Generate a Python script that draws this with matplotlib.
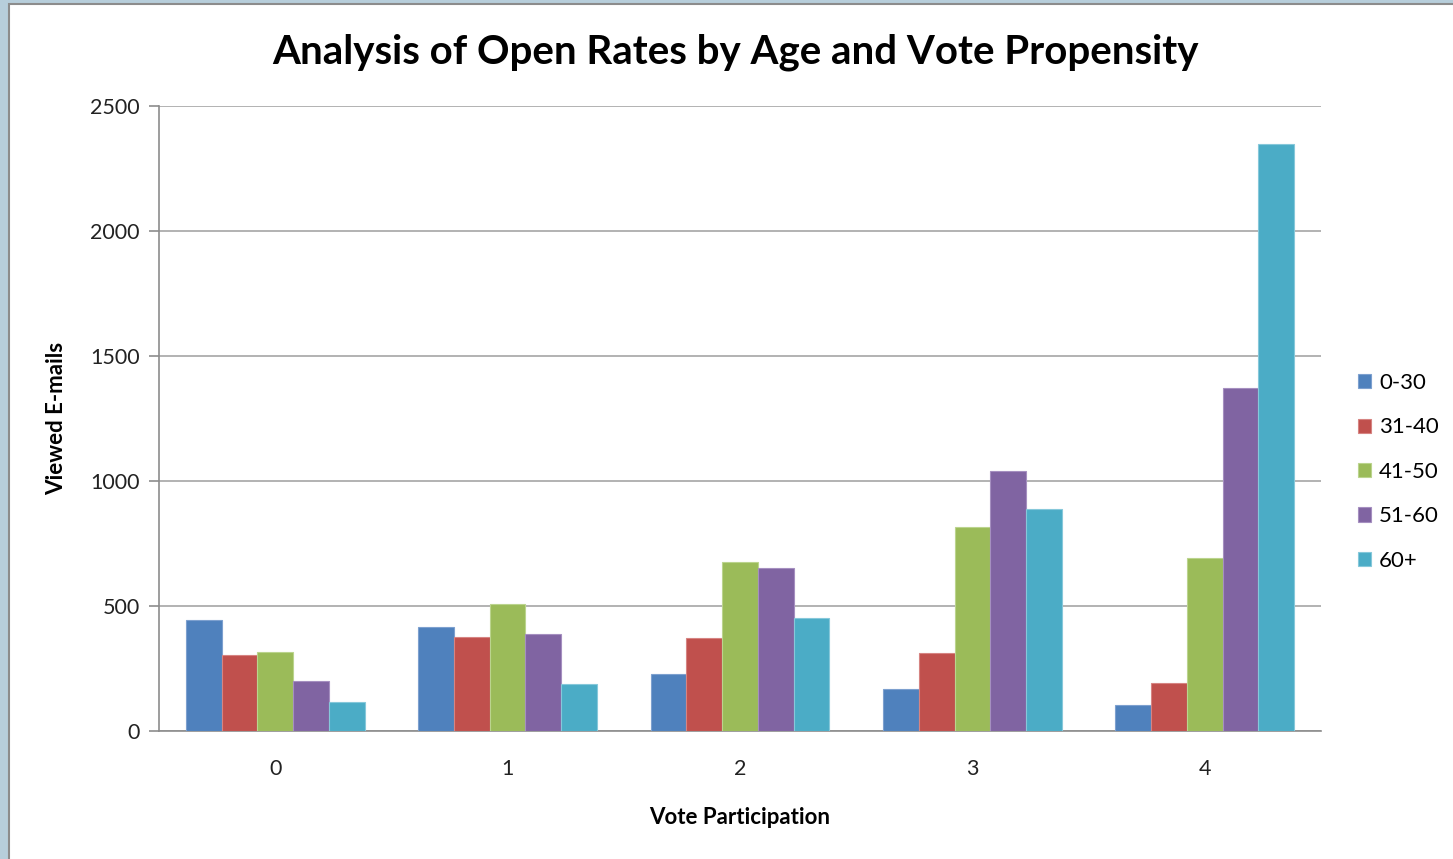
import matplotlib
matplotlib.use("Agg")
import matplotlib.pyplot as plt
from matplotlib.patches import Rectangle
import numpy as np

plt.rcParams['font.family'] = ['Lato', 'DejaVu Sans']

categories = ["0", "1", "2", "3", "4"]
age_groups = ["0-30", "31-40", "41-50", "51-60", "60+"]
viewed = {
    "0-30":  [443, 417, 227, 167, 105],
    "31-40": [305, 376, 371, 311, 194],
    "41-50": [316, 507, 675, 815, 691],
    "51-60": [199, 387, 652, 1041, 1373],
    "60+":   [115, 189, 451, 887, 2349],
}
colors = ["#4F81BD", "#C0504D", "#9BBB59", "#8064A2", "#4BACC6"]
edge_colors = ["#7DA0CF", "#D68482", "#BBD48E", "#A58FC0", "#86C8DA"]
y_ticks = [0, 500, 1000, 1500, 2000, 2500]

W, H = 1453, 859
fig = plt.figure(figsize=(W / 100, H / 100), dpi=100)
fig.patch.set_facecolor("#B7CEDB")

# white chart area with grey frame, kept behind the axes
fig.patches.append(Rectangle((9 / W, -0.01), 1.0, 1.01 - 4 / H, transform=fig.transFigure,
                             facecolor="white", edgecolor="#8C8C8C", linewidth=1.5,
                             zorder=-5))

ax = fig.add_axes([159 / W, 1 - 731 / H, (1321 - 159) / W, (731 - 106) / H])
ax.set_facecolor("none")
ax.set_zorder(2)

n = len(age_groups)
x = np.arange(len(categories))
bar_w = 1.0 / (n + 1.5)
for i, (grp, c, ec) in enumerate(zip(age_groups, colors, edge_colors)):
    offs = (i - (n - 1) / 2) * bar_w
    ax.bar(x + offs, viewed[grp], width=bar_w, color=c, edgecolor=ec,
           linewidth=0.8, label=grp, zorder=3)

ax.set_xlim(-0.5, len(categories) - 0.5)
ax.set_ylim(0, 2500)
ax.set_yticks(y_ticks)
ax.set_yticklabels([str(v) for v in y_ticks], fontsize=15.5, color="#222222")
ax.set_xticks(x)
ax.set_xticklabels(categories, fontsize=15.5, color="#222222")
ax.tick_params(axis="y", length=7, width=1.2, color="#8C8C8C", pad=7)
ax.tick_params(axis="x", length=0, pad=20)
ax.grid(axis="y", color="#A6A6A6", linewidth=1.2, zorder=1)
for s in ["top", "right"]:
    ax.spines[s].set_visible(False)
for s in ["left", "bottom"]:
    ax.spines[s].set_color("#8C8C8C")
    ax.spines[s].set_linewidth(1.2)

fig.text(735 / W, 1 - 52 / H, "Analysis of Open Rates by Age and Vote Propensity",
         fontsize=29, fontweight="bold", ha="center", va="center", color="black")
fig.text(57 / W, 1 - 418 / H, "Viewed E-mails", fontsize=16, fontweight="bold",
         rotation=90, ha="center", va="center")
fig.text(740 / W, 1 - 818 / H, "Vote Participation", fontsize=16, fontweight="bold",
         ha="center", va="center")

ax.legend(loc="upper left", bbox_to_anchor=(1358 / W, 1 - 373 / H),
          bbox_transform=fig.transFigure, frameon=False, fontsize=16,
          handlelength=0.6, handleheight=0.6, handletextpad=0.35,
          labelspacing=1.1, borderaxespad=0, borderpad=0)

fig.savefig("out.png", dpi=100)
